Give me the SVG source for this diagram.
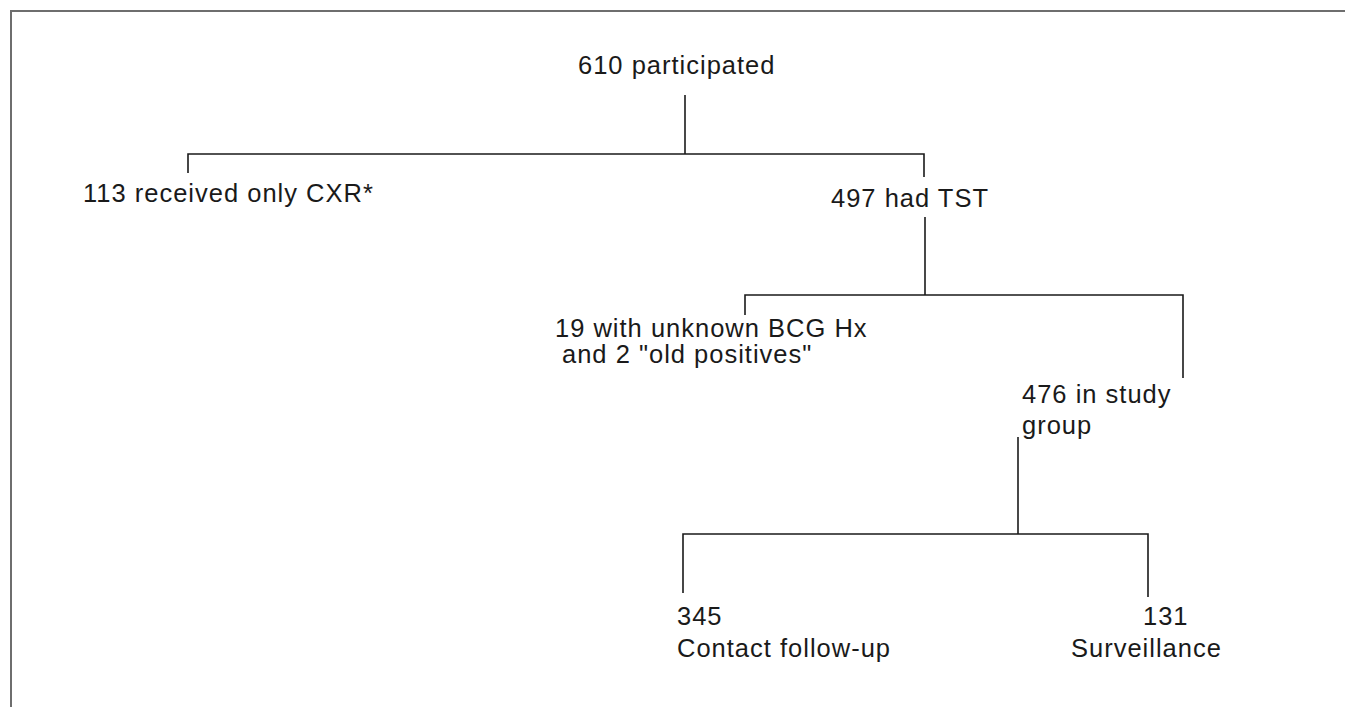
<svg xmlns="http://www.w3.org/2000/svg" width="1345" height="707" viewBox="0 0 1345 707">
<style>
.t{font-family:"Liberation Sans",Arial,sans-serif;font-size:25.5px;fill:#1a1a1a;letter-spacing:1px}
.c{stroke:#1a1a1a;stroke-width:1.6;fill:none}
.b{stroke:#6e6e6e;stroke-width:2;fill:none}
</style>
<rect width="1345" height="707" fill="#fff"/>
<path class="b" d="M11,707 V11 H1345"/>
<g id="connectors">
<path class="c" d="M685,95 V154"/>
<path class="c" d="M188,173 V154 H924 V177"/>
<path class="c" d="M925,217 V295"/>
<path class="c" d="M745,315 V295 H1183 V378"/>
<path class="c" d="M1018,437 V534"/>
<path class="c" d="M683,593 V534 H1148 V597"/>
</g>
<g id="n610"><text class="t" x="578" y="74">610 participated</text></g>
<g id="n113"><text class="t" x="83" y="202">113 received only CXR*</text></g>
<g id="n497"><text class="t" x="831" y="207">497 had TST</text></g>
<g id="n19"><text class="t" x="555" y="337">19 with unknown BCG Hx</text><text class="t" x="562" y="363">and 2 "old positives"</text></g>
<g id="n476"><text class="t" x="1022" y="403">476 in study</text><text class="t" x="1022" y="434">group</text></g>
<g id="n345"><text class="t" x="677" y="625">345</text><text class="t" x="677" y="657">Contact follow-up</text></g>
<g id="n131"><text class="t" x="1143" y="625">131</text><text class="t" x="1071" y="657">Surveillance</text></g>
</svg>
